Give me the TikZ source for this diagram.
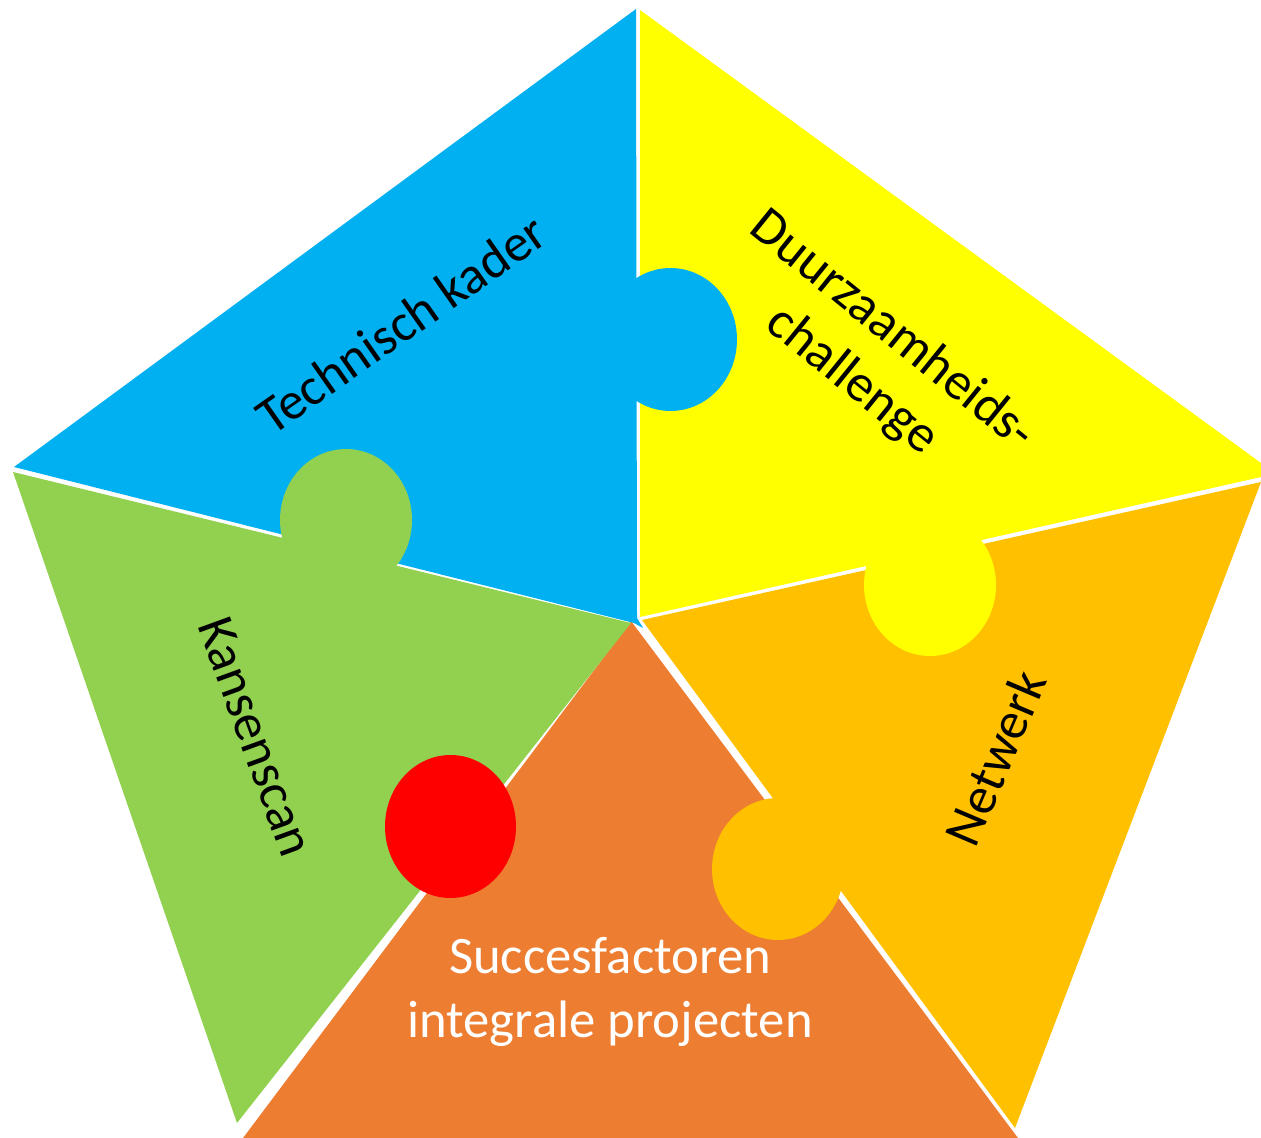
\documentclass[tikz,border=0pt]{standalone}
\usepackage{fontspec}
\setmainfont{Carlito}
\begin{document}
\begin{tikzpicture}[x=0.02cm,y=-0.02cm,
  lbl/.style={font=\fontsize{30}{36.4}\selectfont, align=center, inner sep=0pt},
  knob/.style={x radius=1.32cm, y radius=1.42cm}]
\definecolor{cblue}{HTML}{00B0F0}
\definecolor{cyellow}{HTML}{FFFF00}
\definecolor{cgold}{HTML}{FFC000}
\definecolor{corange}{HTML}{ED7D31}
\definecolor{cgreen}{HTML}{92D050}
\definecolor{cred}{HTML}{FF0000}
\useasboundingbox (0,0) rectangle (1261,1138);
% orange piece
\fill[corange] (631,621) -- (1018,1138) -- (243,1138) -- cycle;
% gold piece with knob into orange
\fill[cgold] (642,620) -- (1261,482) -- (1015,1128) -- cycle;
\fill[cgold] (778,869) ellipse [knob];
% yellow piece with knob into gold
\fill[cyellow] (640,10) -- (1261,463) -- (1261,477) -- (640,617) -- cycle;
\fill[cyellow] (930,585) ellipse [knob];
% blue piece with knob into yellow
\fill[cblue] (636,9) -- (14,467) -- (634,623) -- (643,628) -- (637,618) -- cycle;
\fill[cblue] (670.5,339.5) ellipse [x radius=1.33cm, y radius=1.43cm];
% green piece with knob into blue
\fill[cgreen] (13,472) -- (631,623) -- (237,1123) -- cycle;
\fill[cgreen] (346,520) ellipse [knob];
% red circle
\fill[cred] (450.5,826.5) ellipse [x radius=1.31cm, y radius=1.43cm];
% labels
\node[lbl, rotate=35] (tk) at (401,324) {Technisch kader};
\node[lbl, rotate=-39] (dc) at (872,356) {Duurzaamheids-\\challenge};
\node[lbl, rotate=-70] (ks) at (256,737) {Kansenscan};
\node[lbl, rotate=67] (nw) at (995,758) {Netwerk};
\node[lbl, text=white] (sf) at (610,992) {Succesfactoren\\integrale projecten};
\end{tikzpicture}
\end{document}
